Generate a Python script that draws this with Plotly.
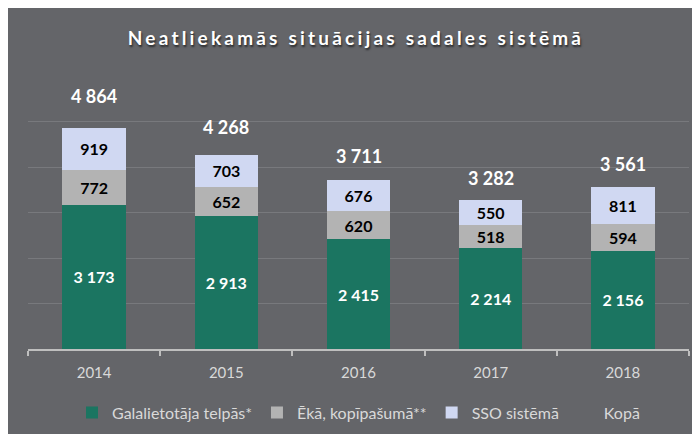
import plotly.graph_objects as go

years = ["2014", "2015", "2016", "2017", "2018"]
galalietotaja = [3173, 2913, 2415, 2214, 2156]
eka = [772, 652, 620, 518, 594]
sso = [919, 703, 676, 550, 811]
totals = [4864, 4268, 3711, 3282, 3561]

names = ["Galalietotāja telpās*", "Ēkā, kopīpašumā**", "SSO sistēmā", "Kopā"]
title_text = "Neatliekamās situācijas sadales sistēmā"

FONT = "Lato"
BG = "#646569"
LABEL_LIFT = 1.143  # total labels sit proportionally above the stack top

def fmt(v):
    return f"{v:,}".replace(",", " ")

W, H = 700, 434
L, T = 20, 68
pw, ph = 661, 275
R = W - L - pw
B = H - T - ph

def px_y(y):
    return (T + ph - y) / ph

fig = go.Figure()

series = [
    (galalietotaja, names[0], "#1b7561", "white"),
    (eka, names[1], "#b3b3b3", "black"),
    (sso, names[2], "#d0d8f2", "black"),
]
for vals, nm, col, tcol in series:
    fig.add_trace(go.Bar(
        x=years, y=vals, name=nm, marker=dict(color=col, line=dict(width=0)),
        text=[fmt(v) for v in vals], textposition="inside", insidetextanchor="middle",
        textangle=0, constraintext="none",
        textfont=dict(family=FONT, size=16, color=tcol, weight="bold"),
    ))

fig.add_trace(go.Scatter(
    x=years, y=totals, name=names[3], mode="markers",
    marker=dict(color="rgba(0,0,0,0)", size=1),
))

# category index positions for the total labels
for i, tot in enumerate(totals):
    fig.add_annotation(x=i, y=tot * LABEL_LIFT, xref="x", yref="y", text=fmt(tot),
                       showarrow=False, yanchor="middle",
                       font=dict(family=FONT, size=18, color="white", weight="bold"))

fig.update_layout(
    width=W, height=H,
    margin=dict(l=L, r=R, t=T, b=B),
    paper_bgcolor=BG, plot_bgcolor=BG,
    barmode="stack", bargap=0.52,
    title=dict(
        text=f'<span style="letter-spacing:3.2px">{title_text}</span>',
        x=348 / W, xref="container", xanchor="center",
        y=1 - 30 / H, yref="container", yanchor="middle",
        font=dict(family=FONT, size=19, color="white", weight="bold",
                  shadow="1px 2px 2px rgba(0,0,0,0.6)"),
    ),
    showlegend=True,
    legend=dict(orientation="h", x=0.5, xanchor="center", y=px_y(407), yanchor="middle",
                font=dict(family=FONT, size=16, color="#d9d9d9"),
                bgcolor="rgba(0,0,0,0)", itemwidth=30, traceorder="normal"),
    xaxis=dict(type="category", categoryorder="array", categoryarray=years,
               range=[-0.5, len(years) - 0.5],
               showline=True, linecolor="#bfbfbf", linewidth=1.5,
               ticks="outside", tickson="boundaries", ticklen=5, tickcolor="#bfbfbf",
               tickwidth=1.5, tickfont=dict(family=FONT, size=15, color="#d9d9d9"),
               ticklabelstandoff=9, showgrid=False, zeroline=False),
    yaxis=dict(range=[0, 6000], dtick=1000, showticklabels=False, showgrid=True,
               gridcolor="#78797d", gridwidth=1, zeroline=False, showline=False),
)

fig.write_html("out.html")
